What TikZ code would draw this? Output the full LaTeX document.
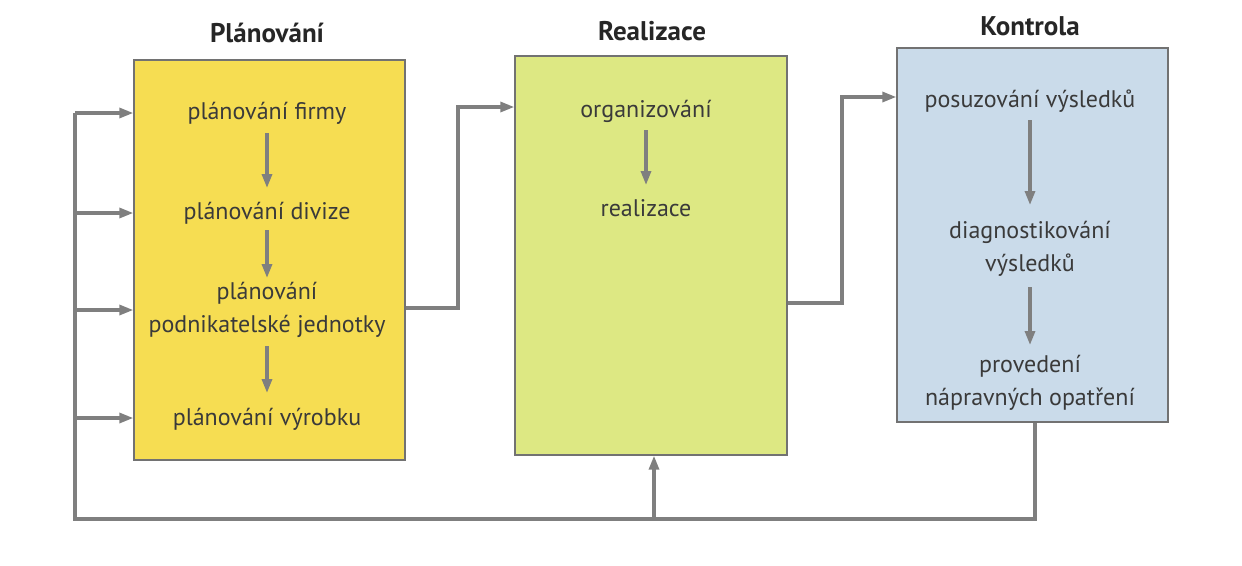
\documentclass[tikz,border=0pt]{standalone}
\usepackage{fontspec}
\setmainfont{PT Sans}
\usetikzlibrary{arrows.meta}
\definecolor{linegray}{HTML}{7F7F7F}
\definecolor{txt}{HTML}{3A3A3A}
\definecolor{yel}{HTML}{F6DD52}
\definecolor{lime}{HTML}{DDE883}
\definecolor{blu}{HTML}{CADBEA}
\tikzset{
  box/.style={draw=linegray!90!black, line width=1.4pt, inner sep=0pt},
  lbl/.style={text=txt, font=\fontsize{24}{33}\selectfont, align=center, inner sep=0pt},
  ttl/.style={text=black!85, font=\bfseries\fontsize{27}{30}\selectfont, inner sep=0pt},
  conn/.style={draw=linegray, line width=3.2pt},
  arr/.style={conn, -{Triangle[length=14pt,width=10pt]}},
  iarr/.style={draw=linegray, line width=3.2pt, -{Triangle[length=14pt,width=10pt]}}
}
\begin{document}
\begin{tikzpicture}[x=1pt,y=-1pt]
\useasboundingbox (0,0) rectangle (1242,565);
% boxes
\node[box, fill=yel, minimum width=271pt, minimum height=400pt] (b1) at (269.5,260) {};
\node[box, fill=lime, minimum width=272pt, minimum height=399pt] (b2) at (651,255.5) {};
\node[box, fill=blu, minimum width=271pt, minimum height=374pt] (b3) at (1032.5,235) {};
% titles
\node[ttl] (t1) at (267,33) {Plánování};
\node[ttl] (t2) at (652,31) {Realizace};
\node[ttl] (t3) at (1030,26) {Kontrola};
% box 1 texts
\node[lbl] (p1) at (267,113) {plánování firmy};
\node[lbl] (p2) at (267,213) {plánování divize};
\node[lbl] (p3) at (267,310) {plánování\\podnikatelské jednotky};
\node[lbl] (p4) at (267,419) {plánování výrobku};
\draw[iarr] (p1.south |- 0,133) -- (p1.south |- 0,188);
\draw[iarr] (p2.south |- 0,230) -- (p2.south |- 0,278);
\draw[iarr] (p3.south |- 0,346) -- (p3.south |- 0,393);
% box 2 texts
\node[lbl] (r1) at (646,111) {organizování};
\node[lbl] (r2) at (646,208) {realizace};
\draw[iarr] (r1.south |- 0,130) -- (r1.south |- 0,185);
% box 3 texts
\node[lbl] (k1) at (1030,101) {posuzování výsledků};
\node[lbl] (k2) at (1030,249) {diagnostikování\\výsledků};
\node[lbl] (k3) at (1030,383) {provedení\\nápravných opatření};
\draw[iarr] (k1.south |- 0,120) -- (k1.south |- 0,205);
\draw[iarr] (k2.south |- 0,287) -- (k2.south |- 0,345);
% feedback loop
\coordinate (fbL) at (75,519);
\coordinate (fbR) at (1035,519);
\coordinate (fbM) at (654,519);
\coordinate (top) at (75,113);
\draw[conn, line join=miter] (b3.south -| fbR) -- (fbR) -- (fbL) -- (top);
\draw[arr] (top) -- (b1.west |- top);
\draw[arr] (75,213) -- (b1.west |- 0,213);
\draw[arr] (75,310) -- (b1.west |- 0,310);
\draw[arr] (75,418) -- (b1.west |- 0,418);
\draw[arr] (fbM) -- (b2.south -| fbM);
% box1 -> box2
\coordinate (c1) at (458,308);
\coordinate (c2) at (458,107);
\draw[arr, line join=miter] (b1.east |- c1) -- (c1) -- (c2) -- (b2.west |- c2);
% box2 -> box3
\coordinate (d1) at (842,303);
\coordinate (d2) at (842,97);
\draw[arr, line join=miter] (b2.east |- d1) -- (d1) -- (d2) -- (b3.west |- d2);
\end{tikzpicture}
\end{document}
